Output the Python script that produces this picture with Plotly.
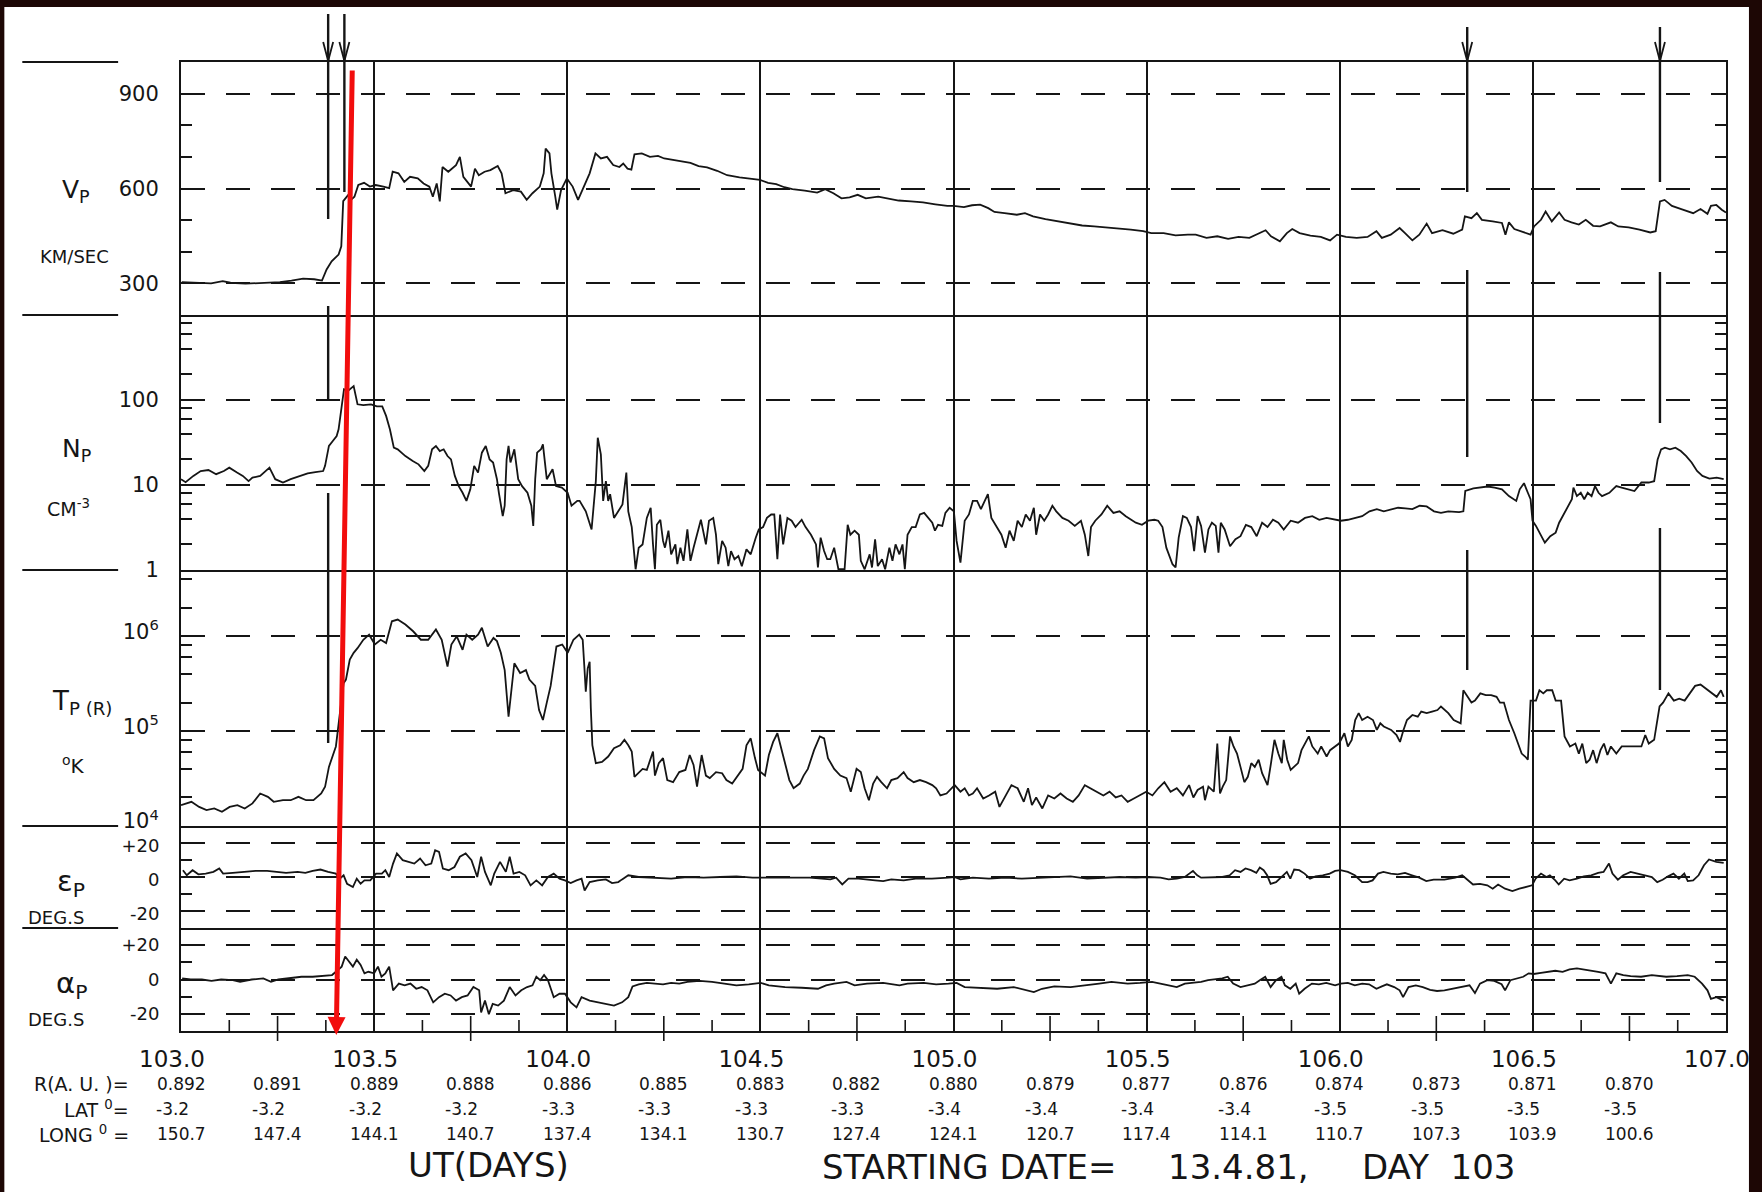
import plotly.graph_objects as go
from plotly.subplots import make_subplots

# ---------------- solar wind plasma, days 103-107 (1981) ----------------
VP_DAY = [103.002, 103.049, 103.078, 103.108, 103.128, 103.167, 103.217, 103.256, 103.286, 103.316,
          103.345, 103.365, 103.377, 103.390, 103.408, 103.415, 103.420, 103.433, 103.440, 103.449,
          103.459, 103.474, 103.489, 103.504, 103.524, 103.539, 103.548, 103.563, 103.578, 103.593,
          103.613, 103.628, 103.643, 103.652, 103.662, 103.670, 103.677, 103.692, 103.712, 103.722,
          103.731, 103.751, 103.761, 103.771, 103.786, 103.801, 103.820, 103.830, 103.840, 103.860,
          103.880, 103.895, 103.910, 103.929, 103.939, 103.944, 103.954, 103.959, 103.969, 103.974,
          103.984, 103.999, 104.014, 104.028, 104.043, 104.058, 104.073, 104.087, 104.103, 104.119,
          104.135, 104.145, 104.156, 104.166, 104.174, 104.193, 104.214, 104.235, 104.251, 104.277,
          104.298, 104.319, 104.340, 104.362, 104.388, 104.414, 104.446, 104.478, 104.499, 104.520,
          104.541, 104.562, 104.583, 104.615, 104.647, 104.668, 104.689, 104.710, 104.731, 104.752,
          104.773, 104.805, 104.826, 104.858, 104.890, 104.921, 104.953, 104.984, 105.000, 105.027,
          105.048, 105.069, 105.090, 105.106, 105.132, 105.164, 105.185, 105.206, 105.238, 105.269,
          105.301, 105.333, 105.364, 105.396, 105.428, 105.459, 105.491, 105.512, 105.544, 105.575,
          105.607, 105.627, 105.655, 105.683, 105.711, 105.738, 105.766, 105.785, 105.808, 105.822,
          105.845, 105.863, 105.877, 105.896, 105.924, 105.951, 105.975, 105.993, 106.016, 106.044,
          106.072, 106.095, 106.109, 106.132, 106.155, 106.169, 106.188, 106.206, 106.225, 106.239,
          106.266, 106.294, 106.317, 106.324, 106.341, 106.355, 106.368, 106.396, 106.420, 106.429,
          106.438, 106.452, 106.475, 106.494, 106.503, 106.521, 106.533, 106.549, 106.568, 106.582,
          106.600, 106.619, 106.637, 106.656, 106.674, 106.702, 106.721, 106.748, 106.776, 106.804,
          106.818, 106.829, 106.841, 106.860, 106.888, 106.915, 106.934, 106.952, 106.961, 106.975,
          106.989, 107.000]
VP_KMS = [304, 302, 300, 307, 302, 299, 302, 304, 309, 315,
          313, 309, 344, 370, 391, 417, 560, 580, 564, 574,
          611, 618, 606, 611, 606, 601, 653, 648, 621, 637,
          632, 616, 606, 574, 616, 559, 668, 653, 674, 700,
          637, 606, 663, 642, 653, 658, 671, 648, 585, 595,
          590, 564, 585, 606, 648, 726, 711, 648, 574, 533,
          595, 632, 606, 564, 606, 648, 711, 695, 700, 674,
          668, 679, 663, 660, 708, 711, 700, 703, 695, 690,
          684, 681, 671, 667, 656, 642, 635, 629, 627, 618,
          614, 604, 598, 593, 587, 598, 585, 569, 572, 580,
          569, 574, 569, 562, 559, 556, 550, 545, 545, 541,
          547, 549, 538, 526, 522, 517, 522, 512, 503, 496,
          489, 483, 480, 477, 473, 470, 465, 459, 459, 452,
          454, 454, 444, 449, 441, 447, 444, 454, 468, 449,
          433, 459, 472, 459, 451, 447, 436, 454, 447, 444,
          447, 465, 444, 454, 475, 459, 436, 454, 489, 459,
          468, 457, 470, 512, 506, 522, 501, 496, 491, 454,
          493, 472, 461, 454, 480, 501, 527, 496, 524, 501,
          493, 486, 501, 482, 480, 493, 480, 477, 470, 461,
          465, 559, 564, 545, 533, 522, 535, 520, 545, 548,
          533, 524]

NP_DAY = [103.000, 103.012, 103.032, 103.051, 103.071, 103.091, 103.111, 103.125, 103.145, 103.160,
          103.175, 103.185, 103.205, 103.220, 103.229, 103.244, 103.264, 103.284, 103.309, 103.328,
          103.348, 103.368, 103.373, 103.383, 103.393, 103.403, 103.408, 103.422, 103.432, 103.447,
          103.457, 103.472, 103.492, 103.507, 103.521, 103.531, 103.541, 103.551, 103.561, 103.581,
          103.600, 103.615, 103.630, 103.640, 103.650, 103.660, 103.670, 103.680, 103.690, 103.699,
          103.709, 103.719, 103.729, 103.739, 103.749, 103.759, 103.769, 103.779, 103.789, 103.799,
          103.808, 103.818, 103.823, 103.833, 103.838, 103.843, 103.848, 103.853, 103.863, 103.873,
          103.883, 103.897, 103.907, 103.912, 103.917, 103.922, 103.932, 103.937, 103.947, 103.962,
          103.971, 103.986, 104.001, 104.011, 104.026, 104.032, 104.048, 104.063, 104.074, 104.079,
          104.087, 104.093, 104.100, 104.106, 104.111, 104.121, 104.132, 104.143, 104.153, 104.158,
          104.167, 104.177, 104.185, 104.195, 104.206, 104.216, 104.222, 104.227, 104.232, 104.241,
          104.248, 104.253, 104.262, 104.269, 104.280, 104.285, 104.293, 104.301, 104.311, 104.319,
          104.327, 104.338, 104.346, 104.359, 104.367, 104.378, 104.385, 104.391, 104.401, 104.410,
          104.417, 104.424, 104.433, 104.443, 104.452, 104.464, 104.475, 104.488, 104.496, 104.507,
          104.517, 104.528, 104.536, 104.544, 104.551, 104.559, 104.570, 104.581, 104.591, 104.607,
          104.617, 104.631, 104.644, 104.649, 104.656, 104.665, 104.673, 104.681, 104.691, 104.702,
          104.718, 104.726, 104.733, 104.744, 104.755, 104.760, 104.770, 104.783, 104.789, 104.797,
          104.804, 104.815, 104.823, 104.834, 104.842, 104.850, 104.860, 104.868, 104.874, 104.881,
          104.892, 104.902, 104.913, 104.924, 104.934, 104.945, 104.952, 104.960, 104.971, 104.979,
          104.990, 105.001, 105.008, 105.018, 105.029, 105.040, 105.050, 105.061, 105.071, 105.082,
          105.089, 105.098, 105.108, 105.124, 105.135, 105.145, 105.156, 105.166, 105.177, 105.187,
          105.198, 105.208, 105.214, 105.224, 105.235, 105.245, 105.256, 105.266, 105.282, 105.298,
          105.314, 105.330, 105.340, 105.349, 105.356, 105.367, 105.383, 105.398, 105.414, 105.430,
          105.446, 105.462, 105.472, 105.488, 105.504, 105.520, 105.530, 105.541, 105.551, 105.567,
          105.575, 105.583, 105.594, 105.604, 105.615, 105.623, 105.632, 105.641, 105.651, 105.660,
          105.669, 105.679, 105.686, 105.692, 105.702, 105.716, 105.730, 105.743, 105.757, 105.771,
          105.785, 105.799, 105.813, 105.827, 105.841, 105.855, 105.873, 105.892, 105.910, 105.929,
          105.947, 105.966, 105.989, 106.003, 106.021, 106.040, 106.058, 106.077, 106.096, 106.114,
          106.133, 106.151, 106.170, 106.188, 106.207, 106.225, 106.244, 106.262, 106.281, 106.309,
          106.320, 106.325, 106.346, 106.364, 106.383, 106.401, 106.420, 106.438, 106.457, 106.466,
          106.477, 106.487, 106.494, 106.499, 106.508, 106.522, 106.531, 106.545, 106.559, 106.568,
          106.577, 106.587, 106.601, 106.605, 106.614, 106.624, 106.633, 106.642, 106.652, 106.661,
          106.670, 106.679, 106.698, 106.707, 106.716, 106.730, 106.744, 106.763, 106.781, 106.800,
          106.814, 106.823, 106.832, 106.842, 106.855, 106.869, 106.883, 106.897, 106.911, 106.925,
          106.939, 106.957, 106.976, 106.994]
NP_CM3 = [11.7, 10.8, 12.8, 14.6, 15.0, 13.4, 14.6, 16.0, 14.0, 12.8,
          11.1, 12.2, 12.8, 14.6, 16.0, 11.7, 10.7, 11.7, 12.8, 13.7,
          14.2, 14.6, 16.8, 28.8, 33.0, 37.7, 45.2, 134, 128, 146,
          89, 87, 89, 84, 84, 65, 45, 27.5, 26.3, 21.9,
          19.2, 17.5, 14.6, 16.8, 26.3, 28.8, 25.1, 26.3, 21.9, 20.0,
          12.8, 9.7, 8.1, 6.5, 8.9, 16.8, 14.0, 24.0, 28.8, 20.0,
          18.4, 11.7, 8.1, 4.3, 5.7, 20.0, 28.8, 18.4, 26.3, 11.7,
          9.7, 8.1, 5.7, 3.3, 11.7, 24.0, 26.3, 30.1, 11.7, 15.3,
          9.7, 9.3, 8.1, 5.7, 6.5, 6.5, 4.9, 3.0, 11.1, 36,
          23, 6.5, 11.1, 6.5, 7.8, 4.1, 4.9, 5.9, 14, 4.9,
          3.2, 1.02, 1.83, 2.0, 4.1, 5.4, 2.0, 1.02, 3.4, 3.9,
          2.2, 1.83, 2.9, 1.53, 2.0, 1.17, 1.83, 1.28, 3.0, 1.28,
          1.83, 2.9, 3.9, 2.0, 3.8, 4.1, 2.6, 1.17, 2.2, 1.83,
          1.11, 1.67, 1.34, 1.46, 1.11, 1.75, 1.53, 2.4, 3.0, 3.2,
          4.1, 4.5, 4.5, 1.34, 4.5, 2.0, 4.1, 3.8, 3.2, 3.9,
          3.2, 2.6, 2.0, 1.07, 2.4, 1.67, 1.34, 1.34, 1.83, 1.02,
          1.02, 3.4, 2.6, 2.9, 2.6, 1.28, 1.02, 1.53, 1.07, 2.3,
          1.11, 1.34, 1.02, 1.83, 1.28, 2.0, 1.53, 2.0, 1.02, 2.6,
          3.2, 3.2, 4.5, 4.7, 4.1, 3.6, 2.9, 3.4, 3.3, 4.7,
          5.4, 4.9, 2.2, 1.22, 3.8, 4.5, 6.5, 6.5, 5.2, 6.5,
          7.8, 4.1, 3.4, 2.6, 1.83, 2.9, 2.2, 3.8, 3.2, 4.5,
          3.8, 5.4, 2.6, 4.5, 3.8, 4.5, 5.7, 4.9, 4.1, 3.8,
          3.3, 3.8, 2.6, 1.46, 3.2, 3.8, 4.5, 5.7, 4.7, 4.9,
          4.3, 3.9, 3.6, 3.4, 3.8, 3.9, 3.8, 3.2, 1.83, 1.17,
          1.07, 2.4, 4.3, 4.1, 3.2, 1.67, 4.3, 3.3, 1.6, 3.0,
          3.6, 3.3, 1.6, 3.6, 3.0, 1.9, 2.3, 2.5, 3.4, 3.2,
          2.5, 3.6, 3.2, 3.9, 3.6, 3.0, 3.8, 3.6, 4.1, 4.3,
          3.9, 4.1, 3.9, 3.8, 3.9, 4.1, 4.3, 4.9, 5.2, 4.9,
          5.2, 5.4, 5.3, 5.2, 5.7, 5.6, 4.9, 4.7, 4.9, 4.8,
          4.9, 8.5, 9.1, 9.3, 9.6, 9.3, 8.9, 7.4, 6.5, 8.9,
          10.5, 8.1, 6.8, 3.8, 3.3, 2.5, 2.1, 2.5, 2.75, 3.6,
          4.3, 5.2, 6.8, 9.3, 7.4, 8.1, 6.8, 8.1, 7.4, 9.7,
          8.1, 7.4, 8.1, 8.9, 9.7, 9.3, 8.9, 8.5, 10.7, 10.7,
          11.1, 20.0, 26.3, 27.5, 26.3, 27.5, 25.1, 21.9, 18.4, 14.6,
          12.8, 11.9, 12.2, 11.7]

TP_DAY = [103.000, 103.012, 103.027, 103.047, 103.066, 103.086, 103.106, 103.126, 103.146, 103.165,
          103.185, 103.205, 103.225, 103.240, 103.264, 103.284, 103.304, 103.324, 103.343, 103.363,
          103.373, 103.383, 103.393, 103.401, 103.411, 103.421, 103.427, 103.437, 103.447, 103.457,
          103.472, 103.487, 103.502, 103.517, 103.531, 103.546, 103.561, 103.581, 103.601, 103.621,
          103.640, 103.660, 103.675, 103.690, 103.700, 103.714, 103.729, 103.739, 103.754, 103.769,
          103.779, 103.794, 103.809, 103.818, 103.828, 103.838, 103.848, 103.863, 103.878, 103.893,
          103.902, 103.917, 103.927, 103.937, 103.947, 103.957, 103.972, 103.987, 104.001, 104.016,
          104.031, 104.040, 104.044, 104.048, 104.053, 104.058, 104.061, 104.065, 104.074, 104.090,
          104.106, 104.121, 104.137, 104.148, 104.158, 104.167, 104.174, 104.185, 104.195, 104.206,
          104.222, 104.227, 104.237, 104.248, 104.259, 104.274, 104.290, 104.306, 104.317, 104.327,
          104.336, 104.348, 104.359, 104.369, 104.385, 104.401, 104.412, 104.427, 104.438, 104.454,
          104.464, 104.475, 104.486, 104.494, 104.501, 104.512, 104.522, 104.533, 104.544, 104.554,
          104.565, 104.575, 104.586, 104.602, 104.612, 104.623, 104.639, 104.654, 104.665, 104.675,
          104.691, 104.707, 104.723, 104.734, 104.749, 104.760, 104.770, 104.781, 104.792, 104.802,
          104.813, 104.828, 104.839, 104.855, 104.871, 104.881, 104.897, 104.913, 104.929, 104.945,
          104.955, 104.966, 104.982, 104.992, 105.003, 105.018, 105.029, 105.040, 105.050, 105.061,
          105.077, 105.092, 105.108, 105.119, 105.135, 105.150, 105.166, 105.182, 105.193, 105.203,
          105.214, 105.230, 105.245, 105.261, 105.277, 105.293, 105.309, 105.324, 105.340, 105.356,
          105.372, 105.388, 105.404, 105.420, 105.435, 105.451, 105.467, 105.483, 105.499, 105.515,
          105.530, 105.546, 105.562, 105.578, 105.594, 105.610, 105.621, 105.632, 105.646, 105.651,
          105.660, 105.674, 105.683, 105.690, 105.697, 105.706, 105.716, 105.725, 105.734, 105.743,
          105.753, 105.762, 105.771, 105.780, 105.790, 105.799, 105.813, 105.822, 105.831, 105.841,
          105.850, 105.855, 105.864, 105.873, 105.882, 105.892, 105.901, 105.910, 105.920, 105.929,
          105.943, 105.952, 105.966, 105.975, 105.989, 105.998, 106.012, 106.021, 106.031, 106.040,
          106.049, 106.058, 106.072, 106.086, 106.096, 106.105, 106.114, 106.133, 106.147, 106.156,
          106.165, 106.174, 106.188, 106.202, 106.211, 106.225, 106.239, 106.253, 106.262, 106.272,
          106.281, 106.295, 106.313, 106.320, 106.332, 106.341, 106.350, 106.364, 106.378, 106.392,
          106.406, 106.415, 106.425, 106.438, 106.452, 106.462, 106.471, 106.480, 106.487, 106.494,
          106.508, 106.517, 106.527, 106.536, 106.550, 106.559, 106.573, 106.582, 106.596, 106.610,
          106.619, 106.628, 106.638, 106.647, 106.656, 106.665, 106.675, 106.684, 106.693, 106.702,
          106.716, 106.730, 106.744, 106.763, 106.781, 106.791, 106.800, 106.814, 106.828, 106.837,
          106.851, 106.865, 106.879, 106.893, 106.907, 106.920, 106.934, 106.948, 106.962, 106.976,
          106.987, 106.994]
TP_K = [1.66e4, 1.73e4, 1.80e4, 1.59e4, 1.47e4, 1.53e4, 1.41e4, 1.59e4, 1.66e4, 1.53e4,
        1.73e4, 2.20e4, 2.03e4, 1.80e4, 1.87e4, 1.87e4, 2.03e4, 1.87e4, 1.87e4, 2.20e4,
        2.59e4, 4.2e4, 5.4e4, 6.9e4, 1.5e5, 3.2e5, 3.5e5, 5.7e5, 6.7e5, 7.5e5,
        9.2e5, 1.04e6, 8.2e5, 9.2e5, 8.5e5, 1.44e6, 1.50e6, 1.33e6, 1.13e6, 9.2e5,
        9.2e5, 1.18e6, 9.2e5, 4.8e5, 8.2e5, 1.0e6, 7.2e5, 1.04e6, 9.2e5, 1.04e6,
        1.23e6, 7.8e5, 9.6e5, 8.9e5, 6.7e5, 4.4e5, 1.42e5, 5.2e5, 4.1e5, 4.4e5,
        3.5e5, 3.0e5, 1.67e5, 1.31e5, 2.0e5, 3.0e5, 7.8e5, 8.2e5, 6.7e5, 9.2e5,
        1.04e6, 9.2e5, 5.0e5, 2.6e5, 4.6e5, 5.4e5, 1.75e5, 7.1e4, 4.6e4, 4.75e4,
        5.4e4, 6.6e4, 7.1e4, 8.1e4, 7.1e4, 6.1e4, 3.3e4, 3.7e4, 4.0e4, 3.9e4,
        6.1e4, 3.4e4, 4.6e4, 5.2e4, 3.05e4, 2.9e4, 3.7e4, 3.9e4, 5.6e4, 4.4e4,
        2.6e4, 5.6e4, 3.4e4, 3.2e4, 3.7e4, 3.6e4, 3.05e4, 2.8e4, 3.2e4, 4.0e4,
        7.1e4, 8.4e4, 5.2e4, 3.9e4, 3.7e4, 3.4e4, 5.6e4, 7.7e4, 9.5e4, 6.6e4,
        4.4e4, 3.05e4, 2.5e4, 2.8e4, 3.4e4, 4.0e4, 6.3e4, 8.8e4, 8.4e4, 5.2e4,
        4.0e4, 3.4e4, 3.2e4, 2.3e4, 4.0e4, 3.7e4, 2.5e4, 1.87e4, 2.8e4, 3.3e4,
        2.9e4, 2.5e4, 3.05e4, 3.2e4, 3.7e4, 3.2e4, 2.9e4, 3.05e4, 2.9e4, 2.7e4,
        2.5e4, 2.1e4, 2.2e4, 2.4e4, 2.7e4, 2.3e4, 2.5e4, 2.1e4, 2.2e4, 2.5e4,
        1.95e4, 2.1e4, 2.3e4, 1.59e4, 2.1e4, 2.7e4, 2.5e4, 1.8e4, 2.5e4, 1.66e4,
        2.0e4, 1.53e4, 2.1e4, 1.95e4, 2.2e4, 1.95e4, 1.8e4, 2.1e4, 2.7e4, 2.5e4,
        2.3e4, 2.1e4, 2.3e4, 2.0e4, 2.1e4, 1.8e4, 1.95e4, 2.1e4, 2.3e4, 2.1e4,
        2.5e4, 2.9e4, 2.3e4, 2.5e4, 2.1e4, 2.7e4, 2.0e4, 2.4e4, 2.6e4, 1.87e4,
        2.6e4, 2.3e4, 7.4e4, 2.2e4, 2.6e4, 3.05e4, 8.8e4, 6.9e4, 5.8e4, 4.2e4,
        2.9e4, 3.3e4, 4.6e4, 4.2e4, 5.0e4, 3.6e4, 2.7e4, 4.6e4, 8.1e4, 5.8e4,
        4.6e4, 8.1e4, 5.0e4, 3.9e4, 4.2e4, 4.6e4, 6.3e4, 7.4e4, 8.8e4, 6.9e4,
        5.8e4, 6.9e4, 5.4e4, 6.3e4, 6.9e4, 7.4e4, 9.5e4, 6.9e4, 8.1e4, 1.31e5,
        1.55e5, 1.31e5, 1.42e5, 1.31e5, 1.03e5, 1.21e5, 1.12e5, 1.03e5, 9.1e4, 7.7e4,
        1.03e5, 1.31e5, 1.48e5, 1.42e5, 1.61e5, 1.55e5, 1.61e5, 1.67e5, 1.82e5, 1.67e5,
        1.55e5, 1.31e5, 1.21e5, 2.7e5, 2.3e5, 2.0e5, 2.1e5, 2.5e5, 2.4e5, 2.4e5,
        2.3e5, 2.0e5, 2.0e5, 1.31e5, 9.5e4, 7.4e4, 5.8e4, 5.4e4, 5.0e4, 2.1e5,
        2.1e5, 2.7e5, 2.5e5, 2.7e5, 2.7e5, 2.1e5, 2.1e5, 8.8e4, 6.9e4, 7.4e4,
        5.8e4, 7.4e4, 4.6e4, 5.0e4, 6.3e4, 4.6e4, 6.3e4, 7.4e4, 5.6e4, 6.9e4,
        5.8e4, 6.9e4, 6.9e4, 6.9e4, 6.9e4, 9.1e4, 7.4e4, 8.1e4, 1.82e5, 2.0e5,
        2.5e5, 2.1e5, 2.2e5, 2.1e5, 2.5e5, 3.0e5, 3.1e5, 2.8e5, 2.5e5, 2.3e5,
        2.7e5, 2.3e5]

EPS_DAY = [103.005, 103.015, 103.030, 103.045, 103.064, 103.084, 103.099, 103.109, 103.134, 103.163,
           103.193, 103.223, 103.242, 103.272, 103.302, 103.322, 103.341, 103.361, 103.381, 103.401,
           103.411, 103.421, 103.430, 103.445, 103.455, 103.465, 103.475, 103.490, 103.505, 103.520,
           103.529, 103.539, 103.549, 103.559, 103.574, 103.589, 103.604, 103.619, 103.633, 103.648,
           103.658, 103.668, 103.678, 103.693, 103.708, 103.722, 103.737, 103.752, 103.767, 103.777,
           103.787, 103.802, 103.811, 103.826, 103.841, 103.851, 103.861, 103.876, 103.891, 103.905,
           103.920, 103.935, 103.950, 103.965, 103.980, 103.994, 104.009, 104.024, 104.037, 104.045,
           104.058, 104.079, 104.100, 104.116, 104.132, 104.142, 104.158, 104.185, 104.227, 104.269,
           104.311, 104.353, 104.396, 104.438, 104.480, 104.501, 104.543, 104.586, 104.628, 104.659,
           104.681, 104.696, 104.712, 104.728, 104.754, 104.797, 104.818, 104.839, 104.871, 104.902,
           104.944, 104.987, 105.002, 105.018, 105.050, 105.092, 105.134, 105.177, 105.219, 105.261,
           105.303, 105.346, 105.388, 105.430, 105.472, 105.504, 105.536, 105.557, 105.578, 105.599,
           105.620, 105.631, 105.641, 105.668, 105.696, 105.715, 105.729, 105.743, 105.756, 105.770,
           105.784, 105.793, 105.803, 105.812, 105.821, 105.835, 105.849, 105.863, 105.872, 105.882,
           105.895, 105.909, 105.923, 105.937, 105.956, 105.974, 105.988, 106.002, 106.021, 106.039,
           106.058, 106.072, 106.085, 106.099, 106.113, 106.132, 106.150, 106.169, 106.187, 106.206,
           106.224, 106.243, 106.271, 106.299, 106.317, 106.331, 106.345, 106.363, 106.382, 106.396,
           106.410, 106.428, 106.447, 106.465, 106.484, 106.498, 106.507, 106.521, 106.535, 106.544,
           106.558, 106.567, 106.581, 106.595, 106.614, 106.632, 106.651, 106.669, 106.683, 106.697,
           106.706, 106.720, 106.734, 106.753, 106.771, 106.790, 106.808, 106.822, 106.836, 106.850,
           106.864, 106.878, 106.892, 106.901, 106.915, 106.929, 106.943, 106.956, 106.975, 106.994]
EPS_DEG = [4.0, 1.0, 4.0, 1.6, 2.0, 3.0, 5.0, 2.0, 2.4, 3.0,
           3.6, 3.6, 3.0, 2.4, 3.0, 2.4, 3.6, 4.4, 3.0, 2.0,
           -1.0, 1.0, -4.0, -5.9, -1.0, -4.0, -2.0, -2.0, 2.0, 2.0,
           4.0, 0.0, 7.9, 13.9, 9.9, 8.9, 7.9, 10.9, 6.9, 7.9,
           15.8, 14.8, 5.0, 4.0, 5.9, 11.9, 13.9, 9.9, 0.0, 11.9,
           3.0, -4.9, 2.0, 8.9, 3.0, 11.9, 2.0, 3.0, 1.0, -4.9,
           -2.0, -4.9, 0.0, 2.0, -1.0, -2.0, -3.6, -2.0, -1.0, -7.9,
           -3.0, -2.0, -1.4, -3.6, -3.0, -1.4, 1.0, 0.0, -0.4, -1.0,
           0.0, -0.4, 0.0, 0.4, -0.4, -0.4, 0.0, -0.4, -0.4, -1.0,
           -1.4, -0.4, -4.4, -1.0, -1.0, -2.0, -2.4, -1.4, -2.0, -1.0,
           -1.0, -0.4, 0.0, -1.4, -0.4, -1.0, -0.4, -1.0, -0.4, 0.0,
           0.4, -1.0, -0.4, 0.0, -0.4, 0.0, -0.4, -1.4, -1.0, 0.0,
           3.6, 1.0, -0.4, -0.4, 0.0, 1.0, 4.0, 3.0, 5.0, 4.0,
           2.4, 5.6, 4.0, 1.0, -4.0, -3.0, 0.0, 3.0, -1.0, 4.4,
           4.0, 2.0, -1.0, 0.4, 1.0, 2.0, 3.6, 4.0, 3.0, 1.0,
           -3.0, -3.0, -2.0, 2.0, 3.0, 2.0, 1.6, 2.4, 1.0, -0.4,
           -2.4, -1.6, -1.6, -0.4, 1.0, -2.0, -4.4, -4.0, -4.9, -6.9,
           -4.4, -6.9, -8.3, -6.9, -5.9, -4.9, -1.0, 2.0, 0.0, 1.0,
           -2.0, -4.4, -1.0, -2.0, -1.0, 0.4, 1.0, 2.4, 3.0, 7.9,
           2.0, -1.6, 1.0, 3.0, 2.0, 1.0, 0.0, -3.0, -1.6, 0.4,
           2.0, -1.0, 2.0, -2.4, -2.0, 1.0, 6.9, 10.3, 8.9, 8.3]

ALPHA_DAY = [103.003, 103.025, 103.054, 103.079, 103.104, 103.134, 103.153, 103.183, 103.213, 103.233,
             103.252, 103.282, 103.312, 103.341, 103.371, 103.391, 103.401, 103.416, 103.425, 103.435,
             103.445, 103.455, 103.465, 103.475, 103.485, 103.500, 103.510, 103.519, 103.529, 103.539,
             103.549, 103.564, 103.579, 103.594, 103.609, 103.623, 103.638, 103.653, 103.668, 103.683,
             103.698, 103.712, 103.727, 103.742, 103.757, 103.772, 103.777, 103.787, 103.797, 103.807,
             103.821, 103.836, 103.851, 103.866, 103.881, 103.896, 103.910, 103.920, 103.930, 103.940,
             103.950, 103.965, 103.980, 103.994, 104.009, 104.024, 104.037, 104.058, 104.079, 104.100,
             104.121, 104.142, 104.158, 104.169, 104.185, 104.206, 104.227, 104.248, 104.269, 104.290,
             104.311, 104.343, 104.375, 104.406, 104.438, 104.470, 104.501, 104.522, 104.564, 104.607,
             104.649, 104.670, 104.691, 104.723, 104.744, 104.776, 104.818, 104.860, 104.881, 104.923,
             104.955, 104.987, 105.008, 105.029, 105.071, 105.113, 105.156, 105.187, 105.208, 105.229,
             105.261, 105.303, 105.346, 105.377, 105.409, 105.451, 105.483, 105.514, 105.557, 105.578,
             105.599, 105.641, 105.659, 105.678, 105.696, 105.710, 105.724, 105.743, 105.761, 105.780,
             105.793, 105.807, 105.821, 105.835, 105.849, 105.858, 105.872, 105.886, 105.895, 105.909,
             105.928, 105.946, 105.965, 105.988, 106.002, 106.021, 106.039, 106.058, 106.076, 106.095,
             106.109, 106.122, 106.141, 106.155, 106.164, 106.178, 106.197, 106.215, 106.234, 106.252,
             106.271, 106.289, 106.317, 106.336, 106.350, 106.363, 106.382, 106.400, 106.419, 106.428,
             106.442, 106.461, 106.475, 106.489, 106.502, 106.521, 106.539, 106.558, 106.577, 106.595,
             106.614, 106.632, 106.651, 106.669, 106.688, 106.702, 106.716, 106.734, 106.753, 106.780,
             106.808, 106.827, 106.845, 106.873, 106.901, 106.919, 106.938, 106.952, 106.961, 106.975,
             106.994]
ALPHA_DEG = [0.6, 0.0, 0.0, -0.8, 0.0, -0.4, -1.4, 0.0, 0.6, -1.4,
             0.0, 0.6, 1.6, 1.6, 2.0, 2.6, 4.5, 7.5, 13.4, 10.5,
             7.5, 11.5, 8.5, 3.6, 4.5, 3.6, 7.5, 1.6, 3.6, 7.5,
             -6.3, -2.4, -3.4, -2.4, -5.4, -4.4, -6.3, -13.3, -10.3, -8.3,
             -9.3, -12.3, -10.3, -9.3, -4.4, -6.3, -19.2, -12.3, -20.2, -14.2,
             -15.2, -12.3, -4.4, -9.3, -6.3, -4.4, -3.4, 1.6, -0.4, 2.6,
             -0.4, -10.3, -8.3, -8.3, -13.3, -16.2, -10.3, -12.3, -13.3, -14.2,
             -15.2, -13.3, -10.3, -4.0, -2.8, -2.0, -2.4, -2.8, -2.0, -2.4,
             -1.4, -0.8, -1.4, -2.4, -3.4, -2.8, -2.0, -3.4, -4.4, -4.8,
             -5.4, -3.4, -2.4, -1.4, -3.4, -2.4, -2.0, -3.4, -2.4, -2.0,
             -2.8, -2.4, -2.0, -4.4, -4.8, -5.4, -4.4, -6.3, -7.3, -5.4,
             -4.0, -4.4, -3.4, -2.4, -1.4, -2.4, -2.0, -1.4, -3.4, -4.4,
             -2.4, -1.4, -0.4, 0.0, 0.6, 1.6, -2.4, -4.4, -3.4, -2.4,
             -0.4, 1.6, -4.4, -0.4, 1.6, -3.4, -5.4, -2.4, -8.3, -5.4,
             -2.4, -2.8, -2.0, -3.4, -2.4, -2.0, -3.4, -2.4, -2.8, -5.4,
             -4.0, -2.8, -4.4, -6.3, -10.3, -4.4, -3.4, -4.4, -6.0, -6.7,
             -6.3, -5.4, -4.0, -3.4, -7.9, -2.4, -0.4, -0.8, -2.8, -6.3,
             -0.4, 0.6, 1.6, 3.6, 3.2, 3.9, 4.5, 5.1, 4.5, 5.9,
             6.5, 5.9, 5.5, 4.5, 3.6, -2.4, 3.6, 2.6, 2.0, 1.6,
             2.6, 2.0, 1.6, 2.0, 2.6, 1.6, -2.4, -6.3, -11.3, -10.3,
             -12.3]

# shock / discontinuity times marked on the record
SHOCK_DAY = [103.381, 103.423, 106.330, 106.829]
# vertical extents of each marker, in page pixels (top, bottom) per segment
SHOCK_SEGMENTS = [[(14, 219), (306, 401), (493, 743)],
                  [(14, 192)],
                  [(27, 192), (270, 457), (550, 670)],
                  [(27, 182), (272, 423), (528, 690)]]
HIGHLIGHT_DAY = 103.402

# spacecraft position table (one column every 6 hours)
TABLE_DAY = [103.0, 103.25, 103.5, 103.75, 104.0, 104.25, 104.5, 104.75,
             105.0, 105.25, 105.5, 105.75, 106.0, 106.25, 106.5, 106.75]
R_AU = ["0.892", "0.891", "0.889", "0.888", "0.886", "0.885", "0.883", "0.882",
        "0.880", "0.879", "0.877", "0.876", "0.874", "0.873", "0.871", "0.870"]
LAT_DEG = ["-3.2", "-3.2", "-3.2", "-3.2", "-3.3", "-3.3", "-3.3", "-3.3",
           "-3.4", "-3.4", "-3.4", "-3.4", "-3.5", "-3.5", "-3.5", "-3.5"]
LONG_DEG = ["150.7", "147.4", "144.1", "140.7", "137.4", "134.1", "130.7", "127.4",
            "124.1", "120.7", "117.4", "114.1", "110.7", "107.3", "103.9", "100.6"]

X_TICKS = [103.0, 103.5, 104.0, 104.5, 105.0, 105.5, 106.0, 106.5, 107.0]
X_TICKTEXT = ["103.0", "103.5", "104.0", "104.5", "105.0", "105.5", "106.0", "106.5", "107.0"]
X_SHORT = [103.125, 103.375, 103.625, 103.875, 104.125, 104.375, 104.625, 104.875,
           105.125, 105.375, 105.625, 105.875, 106.125, 106.375, 106.625, 106.875]
X_LONG = [103.25, 103.75, 104.25, 104.75, 105.25, 105.75, 106.25, 106.75]

# ---------------- page geometry ----------------
W, H = 1762, 1192
ML, MR, MT, MB = 181, 33, 62, 161
PW, PH = W - ML - MR, H - MT - MB
INK = "#151515"
FONT = "DejaVu Sans"
DASH = "24px,21px"


def px(x):
    return (x - ML) / PW


def py(y):
    return (H - MB - y) / PH


fig = make_subplots(rows=5, cols=1, shared_xaxes=True, vertical_spacing=0,
                    row_heights=[253, 255, 256, 102, 103])

series = [(VP_DAY, VP_KMS), (NP_DAY, NP_CM3), (TP_DAY, TP_K), (EPS_DAY, EPS_DEG), (ALPHA_DAY, ALPHA_DEG)]
for i, (xs, ys) in enumerate(series, start=1):
    fig.add_trace(go.Scatter(x=xs, y=ys, mode="lines", line=dict(color=INK, width=1.8),
                             hoverinfo="skip", showlegend=False), row=i, col=1)

fig.update_xaxes(range=[103, 107], tickmode="array", tickvals=X_TICKS, ticks="",
                 showgrid=True, gridcolor=INK, gridwidth=1.6, showticklabels=False,
                 showline=True, linecolor=INK, linewidth=2, mirror=False, zeroline=False)
fig.update_xaxes(row=1, col=1, mirror=True)
fig.update_xaxes(row=5, col=1, showticklabels=True, ticktext=X_TICKTEXT,
                 tickfont=dict(family=FONT, size=23, color=INK),
                 ticklabelshift=-9, ticklabelstandoff=6)

yfont = dict(family=FONT, size=21, color=INK)
ycommon = dict(ticks="inside", ticklen=11, tickwidth=1.6, tickcolor=INK,
               ticklabelstandoff=16, showgrid=True, gridcolor=INK, gridwidth=2, griddash=DASH,
               tickmode="array", showline=True, linecolor=INK, linewidth=2, mirror="allticks",
               zeroline=False)
minor_style = dict(tickmode="array", ticks="inside", ticklen=11, tickwidth=1.6, tickcolor=INK,
                   showgrid=False)

fig.update_yaxes(row=1, col=1, range=[200, 1000], tickvals=[300, 600, 900],
                 ticktext=["300", "600", "900"], tickfont=yfont,
                 minor=dict(tickvals=[400, 500, 700, 800], **minor_style), **ycommon)
fig.update_yaxes(row=2, col=1, type="log", range=[0, 3], tickvals=[1, 10, 100],
                 ticktext=["1", "10", "100"], tickfont=yfont,
                 minor=dict(tickvals=[2, 4, 6, 8, 20, 40, 60, 80, 200, 400, 600, 800], **minor_style),
                 **ycommon)
fig.update_yaxes(row=3, col=1, type="log", range=[4, 6.699], tickvals=[1e4, 1e5, 1e6],
                 ticktext=["10<sup>4</sup>", "10<sup>5</sup>", "10<sup>6</sup>"], tickfont=yfont,
                 ticklabelshift=-5,
                 minor=dict(tickvals=[2e4, 4e4, 6e4, 8e4, 2e5, 4e5, 6e5, 8e5, 2e6, 4e6], **minor_style),
                 **ycommon)
for r in (4, 5):
    fig.update_yaxes(row=r, col=1, range=[-30, 30], tickvals=[-20, 0, 20],
                     ticktext=["-20", "0", "+20"], tickfont=dict(family=FONT, size=18, color=INK),
                     ticklabelshift=3 if r == 4 else 0,
                     minor=dict(tickvals=[-10, 10], **minor_style), **ycommon)

shapes = []
annotations = []

# white sheet on the dark scanner bed
shapes.append(dict(type="rect", xref="paper", yref="paper", x0=px(4), x1=px(1752),
                   y0=py(1200), y1=py(7), fillcolor="white", line=dict(width=0), layer="below"))

# 3-hour ticks inside the bottom frame, 6-hour ticks crossing it
for day in X_SHORT:
    shapes.append(dict(type="line", xref="x5", yref="paper", ysizemode="pixel", yanchor=0,
                       x0=day, x1=day, y0=0, y1=11, line=dict(color=INK, width=1.6)))
for day in X_LONG:
    shapes.append(dict(type="line", xref="x5", yref="paper", ysizemode="pixel", yanchor=0,
                       x0=day, x1=day, y0=-10, y1=15, line=dict(color=INK, width=1.6)))

# short rules in the label column at the panel boundaries
bounds = [fig.layout.yaxis.domain[1], fig.layout.yaxis.domain[0], fig.layout.yaxis2.domain[0],
          fig.layout.yaxis3.domain[0], fig.layout.yaxis4.domain[0]]
for b in bounds:
    shapes.append(dict(type="line", xref="paper", yref="paper", x0=px(22), x1=px(118), y0=b, y1=b,
                       line=dict(color=INK, width=2)))

# shock markers: arrows above the frame plus broken vertical rules
for day, segs in zip(SHOCK_DAY, SHOCK_SEGMENTS):
    for top, bot in segs:
        shapes.append(dict(type="line", xref="x", yref="paper", x0=day, x1=day,
                           y0=py(bot), y1=py(top), line=dict(color=INK, width=2.4)))
    shapes.append(dict(type="path", xref="x", yref="paper", xsizemode="pixel", ysizemode="pixel",
                       xanchor=day, yanchor=py(61), path="M -5,19 L 0,0 L 5,19",
                       line=dict(color=INK, width=1.8)))

# red highlight arrow across all panels
annotations.append(dict(x=HIGHLIGHT_DAY, y=py(1035), xref="x", yref="paper", text="",
                        showarrow=True, ax=16, ay=-966, arrowcolor="#f20d0d", arrowwidth=5,
                        arrowhead=2, arrowsize=0.72, standoff=0))


def label(text, x, y, size, xanchor="center"):
    annotations.append(dict(text=text, x=px(x), y=py(y), xref="paper", yref="paper",
                            xanchor=xanchor, yanchor="middle", showarrow=False,
                            font=dict(family=FONT, size=size, color=INK)))


label("V<sub>P</sub>", 76, 191, 25)
label("KM/SEC", 74, 256, 18)
label("N<sub>P</sub>", 76, 450, 25)
label("CM<sup>-3</sup>", 68, 508, 19)
label("T<sub>P (R)</sub>", 82, 702, 26)
label("<sup>o</sup>K", 73, 765, 20)
label("ε<sub>P</sub>", 71, 883, 29)
label("DEG.S", 56, 917, 18)
label("α<sub>P</sub>", 71, 985, 29)
label("DEG.S", 56, 1019, 18)

label("R(A. U. )=", 131, 1084, 19, "right")
label("LAT <sup>0</sup>=", 131, 1109, 19, "right")
label("LONG <sup>0</sup> =", 131, 1134, 19, "right")
label("UT(DAYS)", 489, 1165, 34)
label("STARTING DATE=", 971, 1167, 34)
label("13.4.81,", 1241, 1167, 34)
label("DAY  103", 1441, 1167, 34)

for rows, ypix, shift in ((R_AU, 1084, 0), (LAT_DEG, 1109, -9), (LONG_DEG, 1134, 0)):
    for day, txt in zip(TABLE_DAY, rows):
        annotations.append(dict(text=txt, x=day, y=py(ypix), xref="x", yref="paper",
                                xanchor="center", yanchor="middle", xshift=shift,
                                showarrow=False, font=dict(family=FONT, size=17, color=INK)))

fig.update_layout(width=W, height=H, margin=dict(l=ML, r=MR, t=MT, b=MB),
                  paper_bgcolor="#1d0705", plot_bgcolor="white",
                  shapes=shapes, annotations=annotations, showlegend=False,
                  font=dict(family=FONT, color=INK))

fig.write_html("out.html")
